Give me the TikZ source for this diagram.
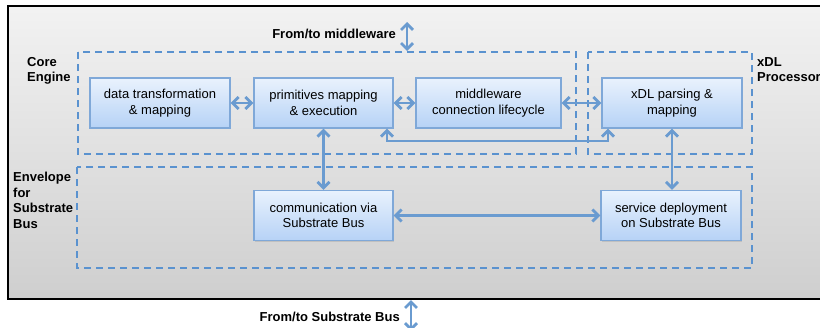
\documentclass[tikz,border=0pt]{standalone}
\usepackage{fontspec}
\setmainfont{Liberation Sans}
\usetikzlibrary{arrows.meta,shadows}
\definecolor{arr}{HTML}{6A9BD0}
\definecolor{dsh}{HTML}{5A92CF}
\definecolor{bxtop}{HTML}{E9F2FD}
\definecolor{bxbot}{HTML}{B6D2F6}
\definecolor{bxdraw}{HTML}{7FA8D8}
\tikzset{
  x=1pt,y=-1pt,
  bx/.style={draw=bxdraw,line width=1.2pt,top color=bxtop,bottom color=bxbot,
    minimum height=50pt,inner sep=0pt,align=center,
    font=\fontsize{13}{15.5}\selectfont,
    drop shadow={shadow xshift=1.2pt,shadow yshift=-1.2pt,opacity=0.25}},
  grp/.style={draw=dsh,line width=2pt,dash pattern=on 7pt off 5pt},
  lbl/.style={font=\bfseries\fontsize{13}{15.5}\selectfont,align=left,inner sep=0pt},
  conn/.style={draw=arr,line width=2.8pt,{Straight Barb[length=6pt,width=12pt]}-{Straight Barb[length=6pt,width=12pt]}},
}
\begin{document}
\begin{tikzpicture}
\useasboundingbox (0,0) rectangle (820,327);
\clip (0,0) rectangle (820,327);
% outer panel
\path[top color=gray!10,bottom color=gray!38,draw=black,line width=1.5pt] (8,6) rectangle (840,299);
% groups
\draw[grp] (78,52) rectangle (576,154);
\draw[grp] (588,52) rectangle (752,154);
\draw[grp] (77,167) rectangle (752,268);
% group labels
\node[lbl,anchor=north west] (lce) at (27,57) {Core\\Engine};
\node[lbl,anchor=north west] (lxp) at (757,57) {xDL\\Processor};
\node[lbl,anchor=north west] (lenv) at (13,172) {Envelope\\for\\Substrate\\Bus};
% boxes
\node[bx,minimum width=140pt] (data) at (160,103) {data transformation\\\& mapping};
\node[bx,minimum width=139pt] (prim) at (323.5,103) {primitives mapping\\\& execution};
\node[bx,minimum width=145pt] (mw) at (488.5,103) {middleware\\connection lifecycle};
\node[bx,minimum width=140pt] (xdl) at (672,103) {xDL parsing \&\\mapping};
\node[bx,minimum width=139pt] (comm) at (323.5,215.5) {communication via\\Substrate Bus};
\node[bx,minimum width=140pt] (serv) at (671,215.5) {service deployment\\on Substrate Bus};
% external labels
\node[lbl,anchor=east] (lmw) at (396,34) {From/to middleware};
\node[lbl,anchor=east] (lsb) at (400,317) {From/to Substrate Bus};
\coordinate (mwt) at (407,22);
\coordinate (mwb) at (407,51);
\coordinate (sbt) at (411,300);
\coordinate (sbb) at (411,331);
% connectors
\draw[conn] (mwt) -- (mwb);
\draw[conn] (sbt) -- (sbb);
\draw[conn] (data) -- (prim);
\draw[conn] (prim) -- (mw);
\draw[conn] (mw) -- (xdl);
\draw[conn] (prim.south) -- (comm.north);
\draw[conn] (xdl.south) -- (xdl.south |- serv.north);
\draw[conn] (comm) -- (serv);
\coordinate (k1) at (387,141);
\coordinate (k2) at (608,141);
\draw[conn] (prim.south -| k1) -- (k1) -- (k2) -- (xdl.south -| k2);
\end{tikzpicture}
\end{document}
